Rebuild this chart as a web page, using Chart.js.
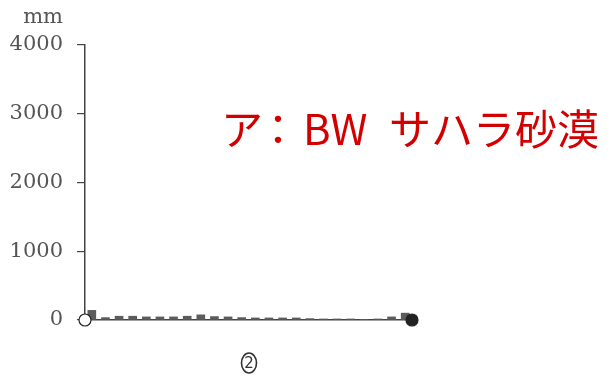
<!DOCTYPE html>
<html>
<head>
<meta charset="utf-8">
<script src="https://cdn.jsdelivr.net/npm/chart.js@4"></script>
<style>
  body { margin: 0; background: #fff; }
</style>
</head>
<body>
<canvas id="myChart" width="612" height="385"></canvas>
<script>
// half-month steps along the x axis
const periods = [0.5, 1.5, 2.5, 3.5, 4.5, 5.5, 6.5, 7.5, 8.5, 9.5, 10.5, 11.5,
                 12.5, 13.5, 14.5, 15.5, 16.5, 17.5, 18.5, 19.5, 20.5, 21.5, 22.5, 23.5];
// rainfall (mm)
const rain = [140, 35, 55, 55, 45, 45, 45, 55, 75, 50, 45, 35,
              30, 30, 30, 30, 20, 15, 15, 15, 10, 15, 45, 100];
const yTicks = [0, 1000, 2000, 3000, 4000];
// start / end markers
const markX = [0, 24];
const markY = [0, 0];

const labels = {
    id: "labels",
    afterDraw(chart) {
        const c = chart.ctx;
        c.save();
        c.fillStyle = "#555";
        c.font = "21px 'DejaVu Serif'";
        c.textAlign = "right";
        c.textBaseline = "alphabetic";
        c.fillText("mm", 63, 23);

        c.fillStyle = "#d20000";
        c.font = "42px 'Noto Sans CJK JP'";
        c.textAlign = "left";
        c.fillText("ア", 221, 145);
        c.fillText("：", 257, 145);
        c.fillText("BW", 303, 145);
        c.fillText("サハラ砂漠", 389, 145);

        // circled 2
        c.strokeStyle = "#333";
        c.lineWidth = 1.6;
        c.beginPath();
        c.ellipse(249, 363, 7.5, 10, 0, 0, Math.PI * 2);
        c.stroke();
        c.fillStyle = "#333";
        c.font = "15px 'DejaVu Sans'";
        c.textAlign = "center";
        c.textBaseline = "middle";
        c.fillText("2", 249, 364);
        c.restore();
    }
};

new Chart("myChart", {
    type: "bar",
    data: {
        datasets: [{
            type: "scatter",
            data: markX.map((x, i) => ({x: x, y: markY[i]})),
            pointRadius: 6,
            pointBackgroundColor: ["#fff", "#222"],
            pointBorderColor: "#222",
            pointBorderWidth: 1.2,
            clip: false,
            order: 1
        }, {
            data: periods.map((x, i) => ({x: x, y: rain[i]})),
            backgroundColor: "#5c5c5c",
            barThickness: 8,
            order: 2
        }]
    },
    options: {
        responsive: false,
        animation: false,
        layout: {padding: {top: 45, right: 200, bottom: 0, left: 0}},
        plugins: {legend: {display: false}, tooltip: {enabled: false}},
        scales: {
            x: {
                type: "linear",
                min: 0,
                max: 24,
                offset: false,
                ticks: {display: false},
                grid: {display: false},
                border: {display: true, color: "#444", width: 1.5},
                afterFit(s) { s.height = 65; }
            },
            y: {
                min: 0,
                max: 4000,
                afterBuildTicks(s) { s.ticks = yTicks.map(v => ({value: v})); },
                ticks: {
                    color: "#555",
                    font: {family: "DejaVu Serif", size: 21},
                    padding: 14,
                    callback: v => String(v)
                },
                grid: {drawOnChartArea: false, drawTicks: true, tickLength: 8, color: "#444", lineWidth: 1.2},
                border: {display: true, color: "#444", width: 1.5},
                afterFit(s) { s.width = 85; }
            }
        }
    },
    plugins: [labels]
});
</script>
</body>
</html>
